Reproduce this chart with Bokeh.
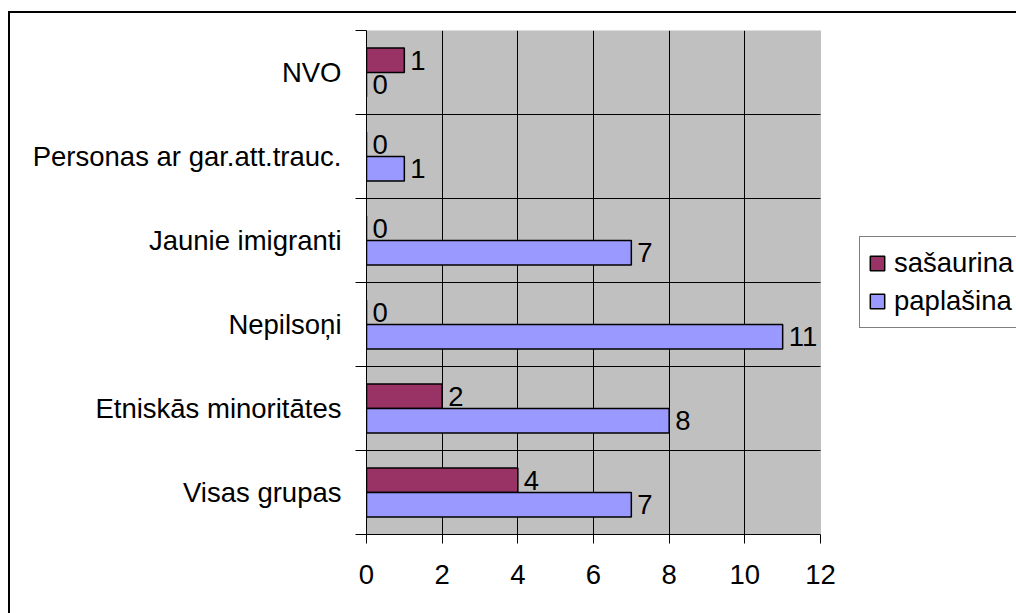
from bokeh.plotting import figure
from bokeh.models import (ColumnDataSource, FixedTicker, Legend, LegendItem,
                          LabelSet, Range1d, BoxAnnotation)
from bokeh.core.properties import value
from bokeh.embed import file_html
from bokeh.resources import INLINE

# Data (Excel order: bottom category first)
categories = ["Visas grupas", "Etniskās minoritātes", "Nepilsoņi",
              "Jaunie imigranti", "Personas ar gar.att.trauc.", "NVO"]
sasaurina = [4, 2, 0, 0, 0, 1]
paplasina = [7, 8, 11, 7, 1, 0]
series_names = ["sašaurina", "paplašina"]
x_ticks = [0, 2, 4, 6, 8, 10, 12]

FONT = "Liberation Sans"
FS = "27.5px"
BAR_H = 0.29
SHIFT = 0.146

# layout (pixels)
W, H = 1016, 613
PLOT_L, PLOT_T, PLOT_B, PLOT_R = 366, 30, 534, 820
x_max = x_ticks[-1]
x_view_end = x_max * (W - PLOT_L) / (PLOT_R - PLOT_L)  # frame extends under the legend

idx = list(range(len(categories)))
src_s = ColumnDataSource(dict(y=[i + 0.5 + SHIFT for i in idx], v=sasaurina,
                              lbl=[str(v) for v in sasaurina]))
src_p = ColumnDataSource(dict(y=[i + 0.5 - SHIFT for i in idx], v=paplasina,
                              lbl=[str(v) for v in paplasina]))

outer_border = ("linear-gradient(#000, #000) 8px 11px / 2px 100% no-repeat, "
                "linear-gradient(#000, #000) 8px 11px / 100% 2px no-repeat, "
                "#ffffff")

p = figure(width=W, height=H, output_backend="svg", toolbar_location=None,
           x_range=Range1d(0, x_view_end), y_range=Range1d(0, len(categories)),
           min_border_left=PLOT_L, min_border_top=PLOT_T,
           min_border_bottom=H - PLOT_B, min_border_right=0,
           styles={"background": outer_border})
p.background_fill_color = None
p.border_fill_color = None
p.outline_line_color = None

# gray plot area (0..12)
p.add_layout(BoxAnnotation(left=0, right=x_max, bottom=0, top=len(categories),
                           fill_color="#C0C0C0", fill_alpha=1,
                           line_color="#808080", line_width=1, level="image"))

r1 = p.hbar(y="y", right="v", left=0, height=BAR_H, source=src_s,
            fill_color="#993366", line_color="black", line_width=1.5)
r2 = p.hbar(y="y", right="v", left=0, height=BAR_H, source=src_p,
            fill_color="#9999FF", line_color="black", line_width=1.5)

for src in (src_s, src_p):
    p.add_layout(LabelSet(x="v", y="y", text="lbl", source=src, x_offset=6,
                          text_baseline="middle", text_align="left",
                          text_font=value(FONT), text_font_size=value(FS),
                          text_color="black"))

# x axis
p.xaxis.ticker = FixedTicker(ticks=x_ticks)
p.xaxis.bounds = (0, x_max)
p.xaxis.axis_line_color = "black"
p.xaxis.major_tick_in = 0
p.xaxis.major_tick_out = 9
p.xaxis.major_tick_line_color = "black"
p.xaxis.minor_tick_line_color = None
p.xaxis.major_label_text_font = FONT
p.xaxis.major_label_text_font_size = FS
p.xaxis.major_label_text_color = "black"
p.xaxis.major_label_standoff = 21

# y axis: labels at band centers, ticks at band boundaries
centers = [i + 0.5 for i in idx]
p.yaxis.ticker = FixedTicker(ticks=centers, minor_ticks=list(range(len(categories) + 1)))
p.yaxis.major_label_overrides = {c: name for c, name in zip(centers, categories)}
p.yaxis.major_tick_in = 0
p.yaxis.major_tick_out = 0
p.yaxis.minor_tick_in = 0
p.yaxis.minor_tick_out = 11
p.yaxis.minor_tick_line_color = "black"
p.yaxis.axis_line_color = "black"
p.yaxis.major_label_text_font = FONT
p.yaxis.major_label_text_font_size = FS
p.yaxis.major_label_text_color = "black"
p.yaxis.major_label_standoff = 14

p.xgrid.ticker = FixedTicker(ticks=x_ticks[1:-1])
p.xgrid.grid_line_color = "black"
p.xgrid.grid_line_width = 1
p.ygrid.ticker = FixedTicker(ticks=list(range(1, len(categories))))
p.ygrid.cross_bounds = (0, x_max)
p.ygrid.grid_line_color = "black"
p.ygrid.grid_line_width = 1

legend = Legend(items=[LegendItem(label=series_names[0], renderers=[r1]),
                       LegendItem(label=series_names[1], renderers=[r2])],
                location=(859 - PLOT_L, PLOT_B - 328), orientation="vertical",
                label_text_font=FONT, label_text_font_size=FS,
                label_text_color="black", glyph_width=18, glyph_height=18,
                label_height=36, spacing=2, padding=8, margin=0,
                label_standoff=8, border_line_color="black",
                border_line_width=1, background_fill_color="white",
                background_fill_alpha=1)
p.add_layout(legend, "center")

open("out.html", "w").write(file_html(p, INLINE))
